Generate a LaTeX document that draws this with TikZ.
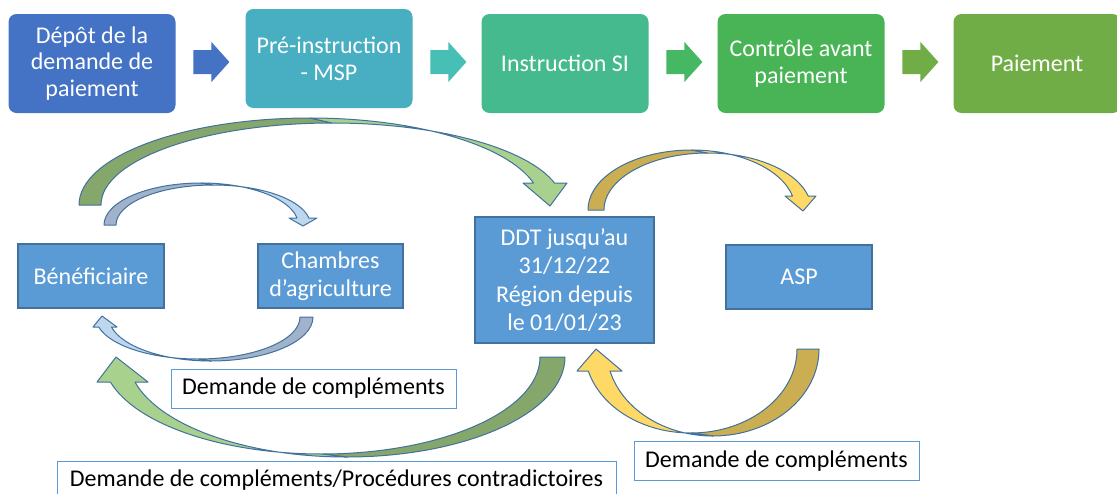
\documentclass[tikz,border=0pt]{standalone}
\usepackage{fontspec}
\setmainfont{Carlito}
\usetikzlibrary{calc}
\definecolor{depot}{HTML}{4472C4}
\definecolor{preinstr}{HTML}{47AFC1}
\definecolor{instr}{HTML}{44BA8E}
\definecolor{controle}{HTML}{48B455}
\definecolor{paiement}{HTML}{70AD47}
\definecolor{fl2}{HTML}{47BFB5}
\definecolor{fl3}{HTML}{46B762}
\definecolor{bleuacteur}{HTML}{5B9BD5}
\definecolor{contour}{HTML}{41719C}
\definecolor{vertfonce}{HTML}{86A76B}
\definecolor{vertclair}{HTML}{A9D18E}
\definecolor{bleufonce}{HTML}{A0B3CA}
\definecolor{bleuclair}{HTML}{BDD7EE}
\definecolor{orfonce}{HTML}{CBAD52}
\definecolor{orclair}{HTML}{FFD966}
\tikzset{fleche/.pic={\fill (0,-12) -- (18,-12) -- (18,-20) -- (36,0) -- (18,20) -- (18,12) -- (0,12) -- cycle;}}
\begin{document}
\begin{tikzpicture}[x=0.5pt,y=-0.5pt]
\tikzstyle{etape}=[rounded corners=4pt, minimum height=49.5pt, minimum width=83.5pt, text width=80pt, align=flush center, text=white, inner sep=0pt, font=\fontsize{12}{13.3}\selectfont]
\tikzstyle{acteur}=[fill=bleuacteur, draw=contour, line width=0.6pt, minimum height=32pt, text width=70pt, align=flush center, text=white, inner sep=0pt, font=\fontsize{12}{14.2}\selectfont]
\tikzstyle{bulle}=[draw=bleuacteur, line width=0.5pt, fill=white, minimum height=19.5pt, inner xsep=5pt, font=\fontsize{12}{14}\selectfont]
\tikzstyle{ruban}=[draw=contour, line width=0.5pt, line join=round]
\useasboundingbox (0,0) rectangle (1117,493);

\node[etape, fill=depot] (depot) at (92,63.5) {Dépôt de la\\demande de\\paiement};
\node[etape, fill=preinstr] (preinstr) at (329,58.5) {Pré-instruction\\- MSP};
\node[etape, fill=instr] (instr) at (565,63.5) {Instruction SI};
\node[etape, fill=controle] (controle) at (801,63.5) {Contrôle avant\\paiement};
\node[etape, fill=paiement] (paiement) at (1037,63.5) {Paiement};

\pic[color=depot] at ($(depot.east)+(17.5,-1.5)$) {fleche};
\pic[color=fl2] at ($(preinstr.east)+(17.5,3.5)$) {fleche};
\pic[color=fl3] at ($(instr.east)+(17.5,-1.5)$) {fleche};
\pic[color=paiement] at ($(controle.east)+(17.5,-1.5)$) {fleche};

\node[acteur, minimum width=73pt] (benef) at (91,276) {Bénéficiaire};
\node[acteur, minimum width=72.5pt] (chambres) at (330.5,276) {Chambres\\d’agriculture};
\node[acteur, minimum width=89.5pt, minimum height=63pt] (ddt) at (564.5,280) {DDT jusqu’au\\31/12/22\\Région depuis\\le 01/01/23};
\node[acteur, minimum width=73pt] (asp) at (799,277) {ASP};

% beneficiaire -> ddt
\filldraw[ruban, fill=vertfonce] (79,205) arc[start angle=180, end angle=270, x radius=231, y radius=87] -- (332,123) arc[start angle=270, end angle=180, x radius=231, y radius=82] -- cycle;
\filldraw[ruban, fill=vertclair] (310,118) arc[start angle=270, end angle=345.35, x radius=231, y radius=87] -- (523,183) -- (550,206) -- (567,183) -- (554.5,183) arc[start angle=344.44, end angle=270, x radius=231, y radius=82] -- cycle;
% beneficiaire -> chambres
\filldraw[ruban, fill=bleufonce] (104,225) arc[start angle=180, end angle=270, x radius=97.2, y radius=42] -- (213.2,185) arc[start angle=270, end angle=180, x radius=97.2, y radius=40] -- cycle;
\filldraw[ruban, fill=bleuclair] (201.2,183) arc[start angle=270, end angle=350.4, x radius=97.2, y radius=42] -- (289,218) -- (303,226) -- (317,218) -- (308.9,218) arc[start angle=349.92, end angle=270, x radius=97.2, y radius=40] -- cycle;
% ddt -> asp
\filldraw[ruban, fill=orfonce] (588,210) arc[start angle=180, end angle=270, x radius=103.7, y radius=60] -- (707.7,153) arc[start angle=270, end angle=180, x radius=103.7, y radius=57] -- cycle;
\filldraw[ruban, fill=orclair] (691.7,150) arc[start angle=270, end angle=346.51, x radius=103.7, y radius=60] -- (785,196) -- (803,211) -- (816,196) -- (808.2,196) arc[start angle=345.78, end angle=270, x radius=103.7, y radius=57] -- cycle;
% chambres -> beneficiaire
\filldraw[ruban, fill=bleufonce] (313,317) arc[start angle=0, end angle=90, x radius=102.1, y radius=44] -- (197.9,359) arc[start angle=90, end angle=0, x radius=102.1, y radius=42] -- cycle;
\filldraw[ruban, fill=bleuclair] (210.9,361) arc[start angle=90, end angle=166.86, x radius=102.1, y radius=44] -- (117,327) -- (102,316) -- (93,327) -- (98.7,327) arc[start angle=166.23, end angle=90, x radius=102.1, y radius=42] -- cycle;
% ddt -> beneficiaire
\filldraw[ruban, fill=vertfonce] (565,357) arc[start angle=0, end angle=90, x radius=218.5, y radius=100] -- (321.5,454) arc[start angle=90, end angle=0, x radius=218.5, y radius=97] -- cycle;
\filldraw[ruban, fill=vertclair] (346.5,457) arc[start angle=90, end angle=165.52, x radius=218.5, y radius=100] -- (148,382) -- (116,357) -- (97,382) -- (110.4,382) arc[start angle=165.06, end angle=90, x radius=218.5, y radius=97] -- cycle;
% asp -> ddt
\filldraw[ruban, fill=orfonce] (819,349) arc[start angle=0, end angle=90, x radius=106.2, y radius=87] -- (690.8,433) arc[start angle=90, end angle=0, x radius=106.2, y radius=84] -- cycle;
\filldraw[ruban, fill=orclair] (712.8,436) arc[start angle=90, end angle=165.35, x radius=106.2, y radius=87] -- (622,371) -- (596,349) -- (577,371) -- (588.3,371) arc[start angle=164.82, end angle=90, x radius=106.2, y radius=84] -- cycle;

\node[bulle, minimum width=142.5pt] (dc1) at (313.5,388.5) {Demande de compléments};
\node[bulle, minimum width=279.5pt] (dc2) at (336.5,480.5) {Demande de compléments/Procédures contradictoires};
\node[bulle, minimum width=142.5pt] (dc3) at (776.5,461) {Demande de compléments};
\end{tikzpicture}
\end{document}
